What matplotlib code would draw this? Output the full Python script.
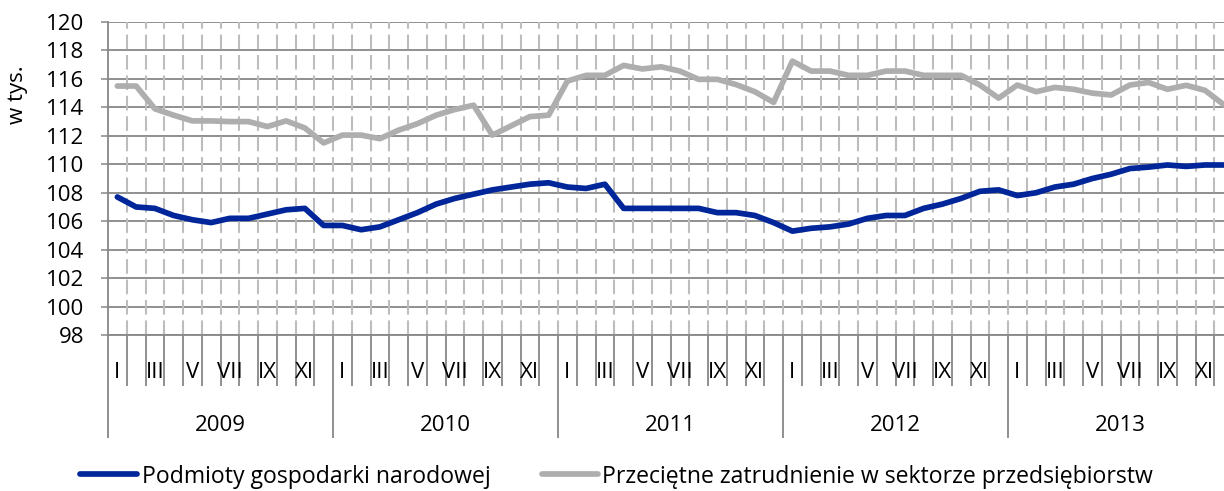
import matplotlib
matplotlib.use("Agg")
import matplotlib.pyplot as plt
from matplotlib.lines import Line2D
import numpy as np

years = ["2009", "2010", "2011", "2012", "2013"]
month_labels = ["I", "", "III", "", "V", "", "VII", "", "IX", "", "XI", ""]

podmioty = [107.7, 107.0, 106.9, 106.4, 106.1, 105.9, 106.2, 106.2, 106.5, 106.8, 106.9, 105.7,
            105.7, 105.4, 105.6, 106.1, 106.6, 107.2, 107.6, 107.9, 108.2, 108.4, 108.6, 108.7,
            108.4, 108.3, 108.6, 106.9, 106.9, 106.9, 106.9, 106.9, 106.6, 106.6, 106.4, 105.9,
            105.3, 105.5, 105.6, 105.8, 106.2, 106.4, 106.4, 106.9, 107.2, 107.6, 108.1, 108.2,
            107.8, 108.0, 108.4, 108.6, 109.0, 109.3, 109.7, 109.8, 109.95, 109.85, 109.95, 109.95]

zatrudnienie = [115.5, 115.5, 113.9, 113.45, 113.05, 113.05, 113.0, 113.0, 112.65, 113.05, 112.55, 111.5,
                112.05, 112.05, 111.8, 112.4, 112.85, 113.45, 113.85, 114.15, 112.05, 112.7, 113.35, 113.45,
                115.85, 116.25, 116.25, 116.95, 116.7, 116.85, 116.55, 115.97, 115.97, 115.6, 115.1, 114.35,
                117.25, 116.55, 116.55, 116.25, 116.25, 116.55, 116.55, 116.25, 116.25, 116.25, 115.57, 114.65,
                115.57, 115.1, 115.4, 115.27, 115.0, 114.87, 115.57, 115.75, 115.27, 115.55, 115.2, 114.2]

W, H = 1224, 491
plt.rcParams['font.family'] = ['Open Sans', 'DejaVu Sans']
FS = 16
FS_LEG = 16.6
LW = 4.1
fig = plt.figure(figsize=(W / 100, H / 100), dpi=100)
ax = fig.add_axes([108 / W, 1 - 335 / H, 1125 / W, 313 / H])

n = len(podmioty)
x = np.arange(n) + 0.5
blue = "#00269A"
gray = "#AEAEAE"
grid_c = "#878787"

ax.set_xlim(0, 60)
ax.set_ylim(98, 120)
ax.set_yticks(np.arange(98, 121, 2))
ax.tick_params(axis='y', direction='out', length=5, width=1.1, color=grid_c,
               labelsize=FS, pad=12)
for yv in np.arange(98, 121, 2):
    ax.axhline(yv, color=grid_c, lw=1.3, zorder=1)
for xv in range(1, 60):
    ax.axvline(xv, color="#BDBDBD", lw=1.5, dashes=(7, 2.8), zorder=1)

ax.plot(x, zatrudnienie, color=gray, lw=LW, zorder=3, solid_capstyle='round')
ax.plot(x, podmioty, color=blue, lw=LW, zorder=4, solid_capstyle='round')

for s in ["top", "right"]:
    ax.spines[s].set_visible(False)
ax.spines["bottom"].set_color(grid_c)
ax.spines["left"].set_color(grid_c)
ax.spines["bottom"].set_linewidth(1.3)
ax.spines["left"].set_linewidth(1.3)

ax.set_xticks(np.arange(0, 61, 12))
ax.set_xticks([m for m in range(61) if m % 12 != 0], minor=True)
ax.tick_params(axis='x', which='major', direction='out', length=74, width=1.3,
               color=grid_c, labelbottom=False)
ax.tick_params(axis='x', which='minor', direction='out', length=37, width=1.3,
               color=grid_c, labelbottom=False)

for yi, yr in enumerate(years):
    for mi, lab in enumerate(month_labels):
        if lab:
            ax.annotate(lab, xy=(yi * 12 + mi + 0.5, 0), xycoords=('data', 'axes fraction'),
                        xytext=(0, -27), textcoords='offset points',
                        ha='center', va='center', fontsize=FS)
    ax.annotate(yr, xy=(yi * 12 + 6, 0), xycoords=('data', 'axes fraction'),
                xytext=(0, -65), textcoords='offset points',
                ha='center', va='center', fontsize=FS)

fig.text(17 / W, 1 - 95 / H, "w tys.", rotation=90, ha='center', va='center', fontsize=FS)

ly = 1 - 474 / H
ty = 1 - 477 / H
fig.add_artist(Line2D([80 / W, 137 / W], [ly, ly], color=blue, lw=LW, solid_capstyle='round'))
fig.text(142 / W, ty, "Podmioty gospodarki narodowej", ha='left', va='center', fontsize=FS_LEG)
fig.add_artist(Line2D([542 / W, 598 / W], [ly, ly], color=gray, lw=LW, solid_capstyle='round'))
fig.text(602 / W, ty, "Przeciętne zatrudnienie w sektorze przedsiębiorstw", ha='left', va='center', fontsize=FS_LEG)

fig.savefig("out.png", dpi=100)
